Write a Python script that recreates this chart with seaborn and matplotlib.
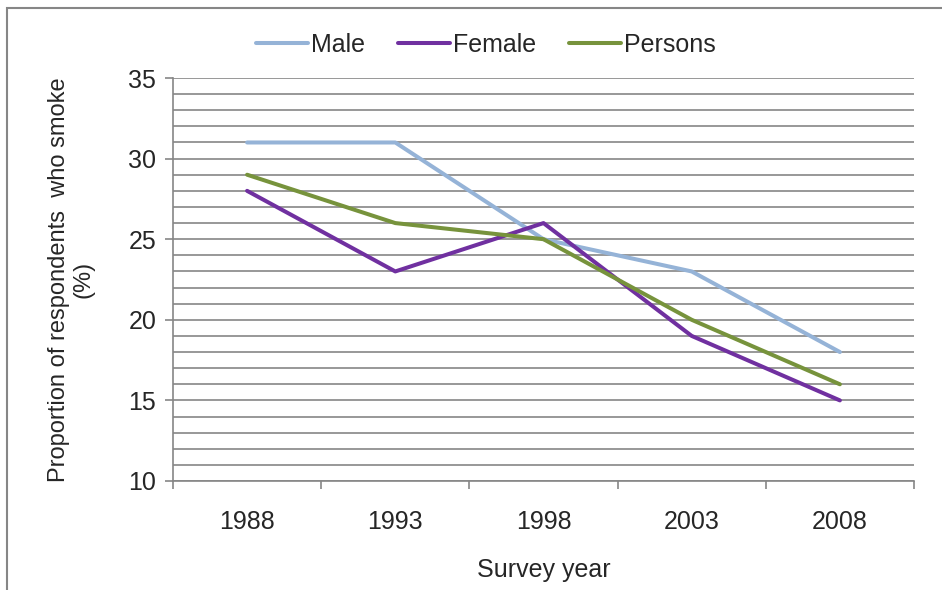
import matplotlib
matplotlib.use("Agg")
import matplotlib.pyplot as plt
import matplotlib.patches as patches
from matplotlib.ticker import MultipleLocator, FixedLocator
import pandas as pd
import seaborn as sns

years = ["1988", "1993", "1998", "2003", "2008"]
male = [31, 31, 25, 23, 18]
female = [28, 23, 26, 19, 15]
persons = [29, 26, 25, 20, 16]

df = pd.DataFrame(
    {
        "Survey year": years * 3,
        "Percent": male + female + persons,
        "Group": ["Male"] * 5 + ["Female"] * 5 + ["Persons"] * 5,
    }
)
palette = {"Male": "#95B3D7", "Female": "#7030A0", "Persons": "#77933C"}

sns.set_style("white")
plt.rcParams["font.family"] = ["Liberation Sans", "DejaVu Sans"]

fig = plt.figure(figsize=(9.42, 5.90), dpi=100)
ax = fig.add_axes([173 / 942, 109 / 590, 741 / 942, 403 / 590])

grid_c = "#868686"
fs = 18
ax.set_ylim(10, 35)
ax.set_xlim(-0.5, 4.5)
ax.yaxis.set_major_locator(MultipleLocator(5))
ax.yaxis.set_minor_locator(MultipleLocator(1))
ax.grid(True, which="both", axis="y", color=grid_c, linewidth=1.2, zorder=0)
ax.set_axisbelow(True)

sns.lineplot(
    data=df, x="Survey year", y="Percent", hue="Group", palette=palette,
    linewidth=2.9, ax=ax, sort=False, legend=True,
)
ax.set_xlim(-0.5, 4.5)
ax.set_ylim(10, 35)

for s in ["top", "right"]:
    ax.spines[s].set_visible(False)
for s in ["left", "bottom"]:
    ax.spines[s].set_color(grid_c)
    ax.spines[s].set_linewidth(1.2)

ax.xaxis.set_minor_locator(FixedLocator([-0.5, 0.5, 1.5, 2.5, 3.5, 4.5]))
ax.tick_params(axis="x", which="major", length=0, labelsize=fs, pad=21)
ax.tick_params(axis="x", which="minor", length=6, width=1.2, color=grid_c, direction="out", bottom=True)
ax.tick_params(axis="y", which="major", length=6, width=1.2, color=grid_c, direction="out", left=True, labelsize=fs, pad=6)
ax.tick_params(axis="y", which="minor", length=0)

ax.set_xlabel("Survey year", fontsize=fs, labelpad=17)
ax.set_ylabel("Proportion of respondents  who smoke\n(%)", fontsize=17, labelpad=24, linespacing=1.2)

ax.get_legend().remove()
handles, labels = ax.get_legend_handles_labels()
fig.legend(
    handles, labels, loc="center", bbox_to_anchor=(486 / 942, 1 - 45 / 590),
    ncol=3, frameon=False, fontsize=fs, handlelength=2.1, handletextpad=0.12,
    columnspacing=1.3,
)

fig.patches.append(
    patches.Rectangle(
        (7 / 942, -0.1), 1.2, 1 - 8 / 590 + 0.1, transform=fig.transFigure,
        fill=False, edgecolor=grid_c, linewidth=1.5,
    )
)

fig.savefig("out.png", dpi=100)
